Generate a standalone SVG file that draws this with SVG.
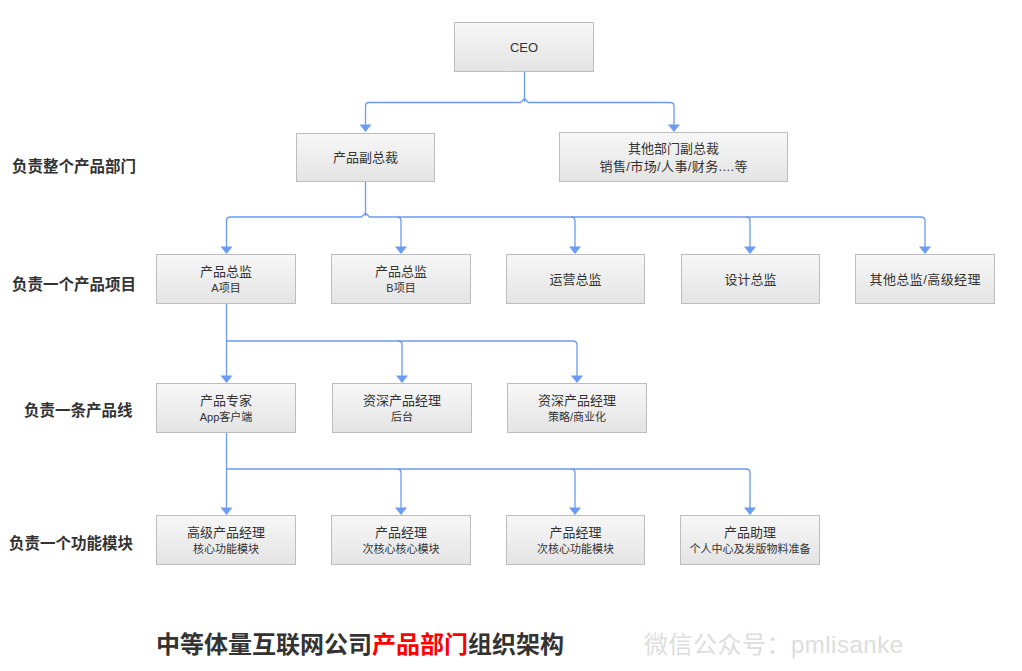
<svg xmlns="http://www.w3.org/2000/svg" width="1022" height="671" viewBox="0 0 1022 671">
<defs>
<linearGradient id="g" x1="0" y1="0" x2="0" y2="1">
<stop offset="0" stop-color="#f7f7f7"/>
<stop offset="1" stop-color="#e4e4e4"/>
</linearGradient>
<style>
.box{fill:url(#g);stroke:#bdbdbd;stroke-width:1}
.t{font-family:"Liberation Sans","Noto Sans CJK SC",sans-serif;font-size:13px;fill:#333;text-anchor:middle}
.s{font-family:"Liberation Sans","Noto Sans CJK SC",sans-serif;font-size:11px;fill:#333;text-anchor:middle}
.lab{font-family:"Liberation Sans","Noto Sans CJK SC",sans-serif;font-size:15.5px;font-weight:bold;fill:#333}
.c{fill:none;stroke:#6b9bf3;stroke-width:1.3}
.ah{fill:#6b9bf3;stroke:none}
</style>
</defs>
<rect width="1022" height="671" fill="#fff"/>

<g id="connectors">
<path class="c" d="M524.5 71 V102"/>
<path class="c" d="M365.5 127 V106 Q365.5 102.5 369 102.5 H520.5 L524.5 98.5 L528.5 102.5 H670 Q674 102.5 674 106 V127"/>
<polygon class="ah" points="359.5,124.5 371.5,124.5 365.5,132"/>
<polygon class="ah" points="668,124.5 680,124.5 674,132"/>

<path class="c" d="M365.5 181 V216"/>
<path class="c" d="M226.5 249 V221 Q226.5 217 230.5 217 H361.5 L365.5 213 L369.5 217 H921 Q925 217 925 221 V249"/>
<path class="c" d="M397 217 Q401 217 401 221 V249"/>
<path class="c" d="M571 217 Q575 217 575 221 V249"/>
<path class="c" d="M746 217 Q750 217 750 221 V249"/>
<polygon class="ah" points="220.5,246.5 232.5,246.5 226.5,254"/>
<polygon class="ah" points="395,246.5 407,246.5 401,254"/>
<polygon class="ah" points="569,246.5 581,246.5 575,254"/>
<polygon class="ah" points="744,246.5 756,246.5 750,254"/>
<polygon class="ah" points="919,246.5 931,246.5 925,254"/>

<path class="c" d="M226.5 303 V378"/>
<path class="c" d="M226.5 341 H398 Q402 341 402 345 V378"/>
<path class="c" d="M398 341 H573 Q577 341 577 345 V378"/>
<polygon class="ah" points="220.5,375.5 232.5,375.5 226.5,383"/>
<polygon class="ah" points="396,375.5 408,375.5 402,383"/>
<polygon class="ah" points="571,375.5 583,375.5 577,383"/>

<path class="c" d="M226.5 432 V510"/>
<path class="c" d="M226.5 469 H397 Q401 469 401 473 V510"/>
<path class="c" d="M397 469 H571 Q575 469 575 473 V510"/>
<path class="c" d="M571 469 H746 Q750 469 750 473 V510"/>
<polygon class="ah" points="220.5,507.5 232.5,507.5 226.5,515"/>
<polygon class="ah" points="395,507.5 407,507.5 401,515"/>
<polygon class="ah" points="569,507.5 581,507.5 575,515"/>
<polygon class="ah" points="744,507.5 756,507.5 750,515"/>
</g>

<g id="ceo"><rect class="box" x="454.5" y="22.5" width="139" height="49"/><text class="t" x="524" y="52">CEO</text></g>
<g id="vp-product"><rect class="box" x="296.5" y="133.5" width="138" height="48"/><text class="t" x="365.5" y="162">产品副总裁</text></g>
<g id="vp-other"><rect class="box" x="559.5" y="132.5" width="228" height="49"/><text class="t" x="673.5" y="153">其他部门副总裁</text><text class="t" x="673.5" y="171" textLength="148" lengthAdjust="spacing">销售/市场/人事/财务....等</text></g>

<g id="dir-a"><rect class="box" x="156.5" y="254.5" width="139" height="49"/><text class="t" x="226" y="276">产品总监</text><text class="s" x="226" y="292">A项目</text></g>
<g id="dir-b"><rect class="box" x="331.5" y="254.5" width="139" height="49"/><text class="t" x="401" y="276">产品总监</text><text class="s" x="401" y="292">B项目</text></g>
<g id="dir-ops"><rect class="box" x="506.5" y="254.5" width="138" height="49"/><text class="t" x="575.5" y="284">运营总监</text></g>
<g id="dir-design"><rect class="box" x="681.5" y="254.5" width="138" height="49"/><text class="t" x="750.5" y="284">设计总监</text></g>
<g id="dir-other"><rect class="box" x="855.5" y="254.5" width="139" height="49"/><text class="t" x="925" y="284" textLength="111" lengthAdjust="spacing">其他总监/高级经理</text></g>

<g id="expert"><rect class="box" x="156.5" y="383.5" width="139" height="49"/><text class="t" x="226" y="405">产品专家</text><text class="s" x="226" y="421">App客户端</text></g>
<g id="senior-backend"><rect class="box" x="332.5" y="383.5" width="139" height="49"/><text class="t" x="402" y="405">资深产品经理</text><text class="s" x="402" y="421">后台</text></g>
<g id="senior-biz"><rect class="box" x="507.5" y="383.5" width="139" height="49"/><text class="t" x="577" y="405">资深产品经理</text><text class="s" x="577" y="421">策略/商业化</text></g>

<g id="pm-senior"><rect class="box" x="156.5" y="515.5" width="139" height="49"/><text class="t" x="226" y="537">高级产品经理</text><text class="s" x="226" y="553">核心功能模块</text></g>
<g id="pm-1"><rect class="box" x="331.5" y="515.5" width="139" height="49"/><text class="t" x="401" y="537">产品经理</text><text class="s" x="401" y="553">次核心核心模块</text></g>
<g id="pm-2"><rect class="box" x="506.5" y="515.5" width="138" height="49"/><text class="t" x="575.5" y="537">产品经理</text><text class="s" x="575.5" y="553">次核心功能模块</text></g>
<g id="pm-assist"><rect class="box" x="680.5" y="515.5" width="139" height="49"/><text class="t" x="750" y="537">产品助理</text><text class="s" x="750" y="553">个人中心及发版物料准备</text></g>

<g id="labels">
<text class="lab" x="12" y="172">负责整个产品部门</text>
<text class="lab" x="12" y="290">负责一个产品项目</text>
<text class="lab" x="24" y="416">负责一条产品线</text>
<text class="lab" x="9" y="549">负责一个功能模块</text>
</g>

<g id="footer">
<text x="156" y="653" font-family="'Liberation Sans','Noto Sans CJK SC',sans-serif" font-size="24" font-weight="bold" fill="#333">中等体量互联网公司<tspan fill="#f00">产品部门</tspan>组织架构</text>
<text x="644" y="653" font-family="'Liberation Sans','Noto Sans CJK SC',sans-serif" font-size="24" fill="#ddd" textLength="259" lengthAdjust="spacing">微信公众号：pmlisanke</text>
</g>
</svg>
